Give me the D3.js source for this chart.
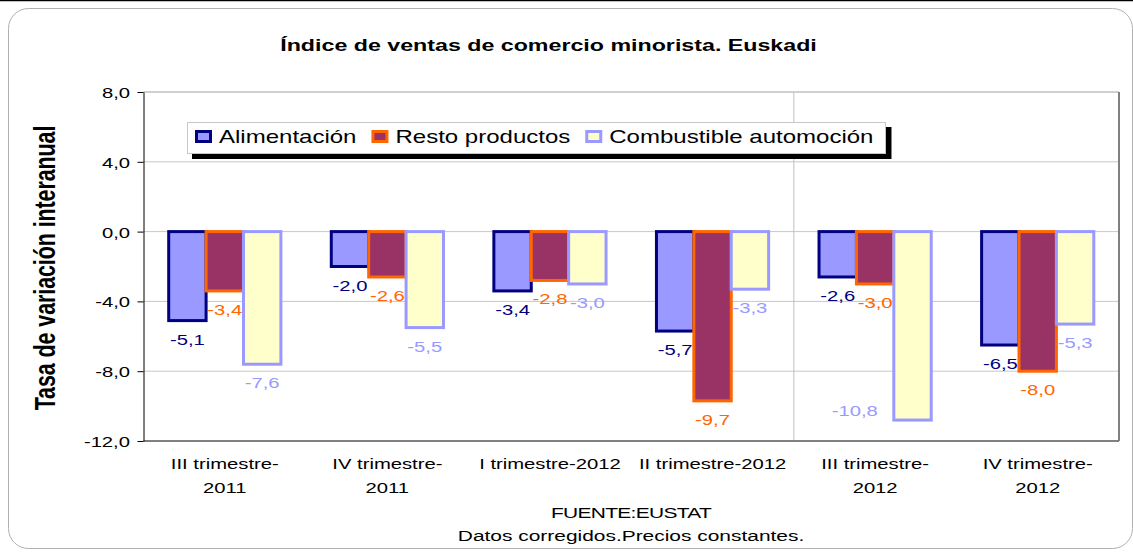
<!DOCTYPE html>
<html>
<head>
<meta charset="utf-8">
<script src="https://cdn.jsdelivr.net/npm/d3@7"></script>
<style>
  body { margin: 0; background: #fff; }
  text { font-family: "Liberation Sans", Arial, sans-serif; }
</style>
</head>
<body>
<script>
// data
const categories = ["III trimestre-\n2011", "IV trimestre-\n2011", "I trimestre-2012", "II trimestre-2012", "III trimestre-\n2012", "IV trimestre-\n2012"];
const seriesNames = ["Alimentación", "Resto productos", "Combustible automoción"];
const alimentacion = [-5.1, -2.0, -3.4, -5.7, -2.6, -6.5];
const resto = [-3.4, -2.6, -2.8, -9.7, -3.0, -8.0];
const combustible = [-7.6, -5.5, -3.0, -3.3, -10.8, -5.3];
const yTicks = [8, 4, 0, -4, -8, -12];

const fills = ["#9999FF", "#993366", "#FFFFCC"];
const strokes = ["#000080", "#FF6600", "#9999FF"];
const labelColors = ["#000080", "#FF6600", "#9999FF"];

const width = 1133, height = 552;
const SX = 1.35; // text in the original is drawn wide
const plot = { left: 143.5, right: 1119, top: 92, bottom: 441 };

const loc = d3.formatLocale({ decimal: ",", thousands: ".", grouping: [3], currency: ["", "€"], minus: "-" });
const fmt = loc.format(".1f");

const rows = categories.map((c, i) => ({
  cat: c,
  values: [alimentacion[i], resto[i], combustible[i]]
}));

const svg = d3.select("body").append("svg")
  .attr("width", width)
  .attr("height", height);

// frame
svg.append("line")
  .attr("x1", 0).attr("x2", width).attr("y1", 0.5).attr("y2", 0.5)
  .attr("stroke", "#000").attr("stroke-width", 1.5);
svg.append("rect")
  .attr("x", 8.5).attr("y", 8.5)
  .attr("width", 1124).attr("height", 540)
  .attr("rx", 20)
  .attr("fill", "#fff")
  .attr("stroke", "#b0b0b0");

const x0 = d3.scaleBand()
  .domain(categories)
  .range([plot.left, plot.right])
  .paddingInner(0.31)
  .paddingOuter(0.155);

const x1 = d3.scaleBand()
  .domain(d3.range(3))
  .range([0, x0.bandwidth()]);

const y = d3.scaleLinear()
  .domain([-12, 8])
  .range([plot.bottom, plot.top]);

// grid
svg.append("g")
  .selectAll("line")
  .data(yTicks.filter(d => d > -12))
  .join("line")
  .attr("x1", plot.left).attr("x2", plot.right)
  .attr("y1", d => y(d)).attr("y2", d => y(d))
  .attr("stroke", d => d === 8 ? "#a0a0a0" : "#c8c8c8")
  .attr("stroke-width", 1);

// separator between categories 4 and 5
const sepX = x0.range()[0] + 4 * x0.step();
svg.append("line")
  .attr("x1", sepX).attr("x2", sepX)
  .attr("y1", plot.top).attr("y2", plot.bottom)
  .attr("stroke", "#c0c0c0");

// plot border right / bottom
svg.append("line")
  .attr("x1", plot.right).attr("x2", plot.right)
  .attr("y1", plot.top).attr("y2", plot.bottom)
  .attr("stroke", "#808080").attr("stroke-width", 2);
svg.append("line")
  .attr("x1", plot.left).attr("x2", plot.right)
  .attr("y1", plot.bottom).attr("y2", plot.bottom)
  .attr("stroke", "#808080").attr("stroke-width", 2);

// y axis
const yAxis = svg.append("g")
  .attr("transform", `translate(${plot.left},0)`)
  .call(d3.axisLeft(y).tickValues(yTicks).tickFormat(fmt).tickSize(6).tickSizeOuter(0));
yAxis.select(".domain").attr("stroke", "#000");
yAxis.selectAll(".tick line").attr("stroke", "#000");
yAxis.selectAll(".tick text")
  .attr("x", -10)
  .attr("dy", "0.36em")
  .attr("font-size", 15)
  .attr("fill", "#000")
  .attr("transform", `scale(${SX},1)`);

// bars
const groups = svg.append("g")
  .selectAll("g")
  .data(rows)
  .join("g")
  .attr("transform", d => `translate(${x0(d.cat)},0)`);

groups.selectAll("rect")
  .data(d => d.values.map((v, k) => ({ v, k })))
  .join("rect")
  .attr("x", d => x1(d.k))
  .attr("y", d => Math.min(y(0), y(d.v)))
  .attr("width", x1.bandwidth())
  .attr("height", d => Math.abs(y(d.v) - y(0)))
  .attr("fill", d => fills[d.k])
  .attr("stroke", d => strokes[d.k])
  .attr("stroke-width", 3);

// data labels (below the bar end, or to the left when there is no room)
groups.selectAll("text.lbl")
  .data(d => d.values.map((v, k) => ({ v, k })))
  .join("text")
  .attr("class", "lbl")
  .attr("font-size", 15)
  .attr("fill", d => labelColors[d.k])
  .attr("text-anchor", d => y(d.v) + 24 > plot.bottom ? "end" : "middle")
  .attr("transform", d => {
    const end = y(d.v);
    if (end + 24 > plot.bottom) {
      return `translate(${x1(d.k) - 16},${end - 4}) scale(${SX},1)`;
    }
    return `translate(${x1(d.k) + x1.bandwidth() / 2},${end + 24}) scale(${SX},1)`;
  })
  .text(d => fmt(d.v));

// category labels
const xAxis = svg.append("g")
  .attr("transform", `translate(0,${plot.bottom})`)
  .call(d3.axisBottom(x0).tickSize(0));
xAxis.select(".domain").remove();
xAxis.selectAll(".tick text").remove();
xAxis.selectAll(".tick").each(function (d) {
  const t = d3.select(this).append("text")
    .attr("font-size", 15)
    .attr("fill", "#000")
    .attr("text-anchor", "middle")
    .attr("transform", `translate(0,28) scale(${SX},1)`);
  d.split("\n").forEach((line, i) => {
    t.append("tspan").attr("x", 0).attr("y", i * 24).text(line);
  });
});

// title
svg.append("text")
  .attr("transform", `translate(548.5,51) scale(${SX},1)`)
  .attr("text-anchor", "middle")
  .attr("font-size", 17.2)
  .attr("font-weight", "bold")
  .text("Índice de ventas de comercio minorista. Euskadi");

// y label
svg.append("text")
  .attr("transform", `translate(55,268) scale(${SX},1) rotate(-90)`)
  .attr("text-anchor", "middle")
  .attr("font-size", 21.5)
  .attr("font-weight", "bold")
  .attr("letter-spacing", -0.1)
  .text("Tasa de variación interanual");

// footnotes
svg.append("text")
  .attr("transform", `translate(631,518) scale(${SX},1)`)
  .attr("text-anchor", "middle")
  .attr("font-size", 15.5)
  .attr("letter-spacing", -0.5)
  .text("FUENTE:EUSTAT");
svg.append("text")
  .attr("transform", `translate(631,541) scale(${SX},1)`)
  .attr("text-anchor", "middle")
  .attr("font-size", 15.5)
  .text("Datos corregidos.Precios constantes.");

// legend
const legend = svg.append("g");
const shadow = legend.append("rect").attr("fill", "#000");
const box = legend.append("rect").attr("fill", "#fff").attr("stroke", "#c8c8c8");
let lx = 195;
seriesNames.forEach((name, k) => {
  legend.append("rect")
    .attr("x", lx + 1.5).attr("y", 131.5)
    .attr("width", 14).attr("height", 10)
    .attr("fill", fills[k])
    .attr("stroke", strokes[k])
    .attr("stroke-width", 3);
  const t = legend.append("text")
    .attr("font-size", 17.8)
    .attr("transform", `translate(${lx + 24},143) scale(${SX},1)`)
    .text(name);
  const w = t.node().getComputedTextLength() * SX;
  lx = lx + 24 + w + 15;
});
const boxRight = lx - 15 + 12;
box.attr("x", 187.5).attr("y", 122.5).attr("width", boxRight - 187.5).attr("height", 31);
shadow.attr("x", 192).attr("y", 127).attr("width", boxRight - 186).attr("height", 32);
</script>
</body>
</html>
